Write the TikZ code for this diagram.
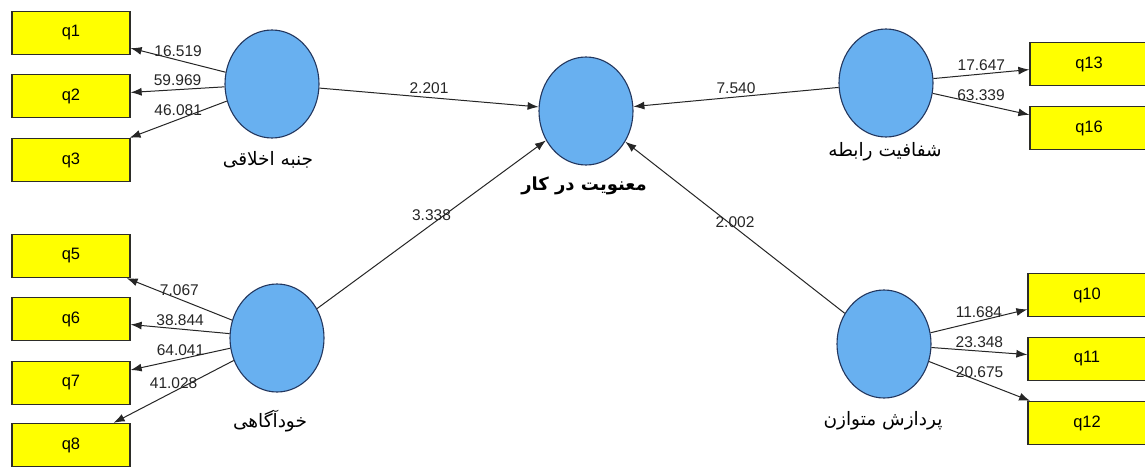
\documentclass[tikz,border=0pt]{standalone}
\usepackage{fontspec}
\setmainfont{Liberation Sans}
\newfontfamily\farsi[Script=Arabic]{DejaVu Sans}
\TeXXeTstate=1
\usetikzlibrary{shapes.geometric,arrows.meta}
\definecolor{lvblue}{RGB}{104,176,240}
\definecolor{lvedge}{RGB}{35,55,95}
\definecolor{mvedge}{RGB}{45,45,40}
\definecolor{mvyellow}{RGB}{255,255,0}

\begin{document}
\begin{tikzpicture}[x=1pt,y=-1pt,
    lv/.style={ellipse,draw=lvedge,line width=1.1pt,fill=lvblue,
      minimum width=94pt,minimum height=108pt,inner sep=0pt},
    mv/.style={rectangle,draw=mvedge,line width=1.3pt,fill=mvyellow,
      minimum width=118pt,minimum height=43pt,font=\fontsize{16.5}{18}\selectfont},
    link/.style={draw=black!85,line width=1pt,-{Latex[length=11pt,width=8pt]}},
    coef/.style={midway,above=3pt,inner sep=0pt,font=\fontsize{15.5}{17}\selectfont,text=black!85},
    lvname/.style={font=\fontsize{18.5}{20}\selectfont\farsi}]
  \useasboundingbox[fill=white] (0,0) rectangle (1145,466);
  % latent variables
  \node[lv] (ethic) at (272,84)  {};
  \node[lv] (aware) at (277,338) {};
  \node[lv] (mean)  at (586,111) {};
  \node[lv] (trans) at (886,83)  {};
  \node[lv] (proc)  at (884,344) {};
  \node[lvname] (ethic-t) at (268,160) {\beginR جنبه اخلاقی\endR};
  \node[lvname] (aware-t) at (270,421) {\beginR خودآگاهی\endR};
  \node[lvname,font=\fontsize{18}{20}\selectfont\farsi\bfseries] (mean-t) at (584,186) {\beginR معنویت در کار\endR};
  \node[lvname] (trans-t) at (885,152) {\beginR شفافیت رابطه\endR};
  \node[lvname] (proc-t)  at (883,421) {\beginR پردازش متوازن\endR};
  % indicators
  \node[mv] (q1)  at (71,33)    {q1};
  \node[mv] (q2)  at (71,96)    {q2};
  \node[mv] (q3)  at (71,160)   {q3};
  \node[mv] (q5)  at (71,256)   {q5};
  \node[mv] (q6)  at (71,319)   {q6};
  \node[mv] (q7)  at (71,383)   {q7};
  \node[mv] (q8)  at (71,445)   {q8};
  \node[mv] (q13) at (1089,64)  {q13};
  \node[mv] (q16) at (1089,128) {q16};
  \node[mv] (q10) at (1087,295) {q10};
  \node[mv] (q11) at (1087,359) {q11};
  \node[mv] (q12) at (1087,423) {q12};
  % outer loadings
  \draw[link] (ethic) -- node[coef] (l1) {16.519} (q1);
  \draw[link] (ethic) -- node[coef] (l2) {59.969} (q2);
  \draw[link] (ethic) -- node[coef] (l3) {46.081} (q3);
  \draw[link] (aware) -- node[coef] (l5) {7.067} (q5);
  \draw[link] (aware) -- node[coef] (l6) {38.844} (q6);
  \draw[link] (aware) -- node[coef] (l7) {64.041} (q7);
  \draw[link] (aware) -- node[coef] (l8) {41.028} (q8);
  \draw[link] (trans) -- node[coef] (l13) {17.647} (q13);
  \draw[link] (trans) -- node[coef] (l16) {63.339} (q16);
  \draw[link] (proc)  -- node[coef] (l10) {11.684} (q10);
  \draw[link] (proc)  -- node[coef] (l11) {23.348} (q11);
  \draw[link] (proc)  -- node[coef] (l12) {20.675} (q12);
  % path coefficients
  \draw[link] (ethic) -- node[coef] (p1) {2.201} (mean);
  \draw[link] (aware) -- node[coef] (p2) {3.338} (mean);
  \draw[link] (trans) -- node[coef] (p3) {7.540} (mean);
  \draw[link] (proc)  -- node[coef,above=-4pt] (p4) {2.002} (mean);
\end{tikzpicture}
\end{document}
